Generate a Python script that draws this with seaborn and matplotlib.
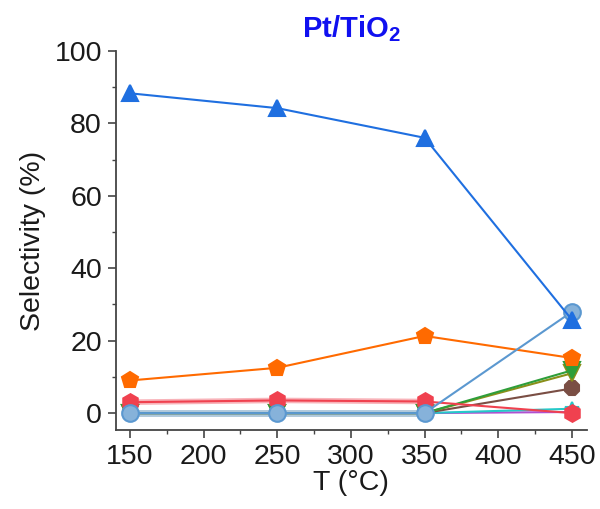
import matplotlib
matplotlib.use("Agg")
import matplotlib.pyplot as plt
import seaborn as sns
import numpy as np
from matplotlib.ticker import MultipleLocator

temps = [150, 250, 350, 450]
names = ["I", "H", "G", "F", "E", "C", "B", "D", "A"]
vals_A = [88.3, 84.2, 76.0, 25.7]
vals_B = [9.0, 12.5, 21.3, 15.2]
vals_C = [3.0, 3.5, 3.2, 0.0]
vals_D = [0.0, 0.0, 0.0, 28.0]
vals_E = [0.0, 0.0, 0.0, 11.8]
vals_F = [0.0, 0.0, 0.0, 11.0]
vals_G = [0.0, 0.0, 0.0, 6.8]
vals_H = [0.0, 0.0, 0.0, 1.2]
vals_I = [0.0, 0.0, 0.0, 0.3]
values = {"A": vals_A, "B": vals_B, "C": vals_C, "D": vals_D, "E": vals_E,
          "F": vals_F, "G": vals_G, "H": vals_H, "I": vals_I}
colors = {"A": "#1f6fe0", "B": "#ff6a00", "C": "#f0414f", "D": "#5b98d0",
          "E": "#2e9e3a", "F": "#8a8f1a", "G": "#7a4e44", "H": "#25c9c9",
          "I": "#b050d0"}
faces = dict(colors)
faces["D"] = "#86b2da"
markers = {"A": "^", "B": "p", "C": "h", "D": "o", "E": "v", "F": "v",
           "G": "8", "H": "*", "I": "d"}
msizes = {"A": 11, "B": 12, "C": 12, "D": 12, "E": 11, "F": 11, "G": 11,
          "H": 10, "I": 7}

sns.set_style("ticks")
plt.rcParams['font.family'] = ['Liberation Sans', 'DejaVu Sans']
plt.rcParams['mathtext.fontset'] = 'custom'
plt.rcParams['mathtext.rm'] = 'Liberation Sans'
plt.rcParams['mathtext.bf'] = 'Liberation Sans:bold'

fig = plt.figure(figsize=(6, 5.09), dpi=100)
ax = fig.add_axes([0.193, 0.155, 0.785, 0.745])

# pale thick baseline bands drawn first
sns.lineplot(x=temps[:3], y=vals_D[:3], ax=ax, color="#a9c4d8", linewidth=5, alpha=0.9)
sns.lineplot(x=temps[:3], y=vals_C[:3], ax=ax, color="#f7a0a8", linewidth=4, alpha=0.8)

for n in names:
    sns.lineplot(x=temps, y=values[n], ax=ax, color=colors[n], marker=markers[n],
                 markersize=msizes[n], markerfacecolor=faces[n],
                 markeredgecolor=colors[n], markeredgewidth=1.5, linewidth=1.5)

ax.set_xlim(140.5, 460)
ax.set_ylim(-4.7, 100)
ax.xaxis.set_major_locator(MultipleLocator(50))
ax.xaxis.set_minor_locator(MultipleLocator(25))
ax.yaxis.set_major_locator(MultipleLocator(20))
ax.yaxis.set_minor_locator(MultipleLocator(10))
for s in ["top", "right"]:
    ax.spines[s].set_visible(False)
for s in ["left", "bottom"]:
    ax.spines[s].set_color("#444444")
    ax.spines[s].set_linewidth(1.3)
ax.tick_params(which="major", direction="out", length=6, width=1.2, color="#444444",
               labelsize=20.5, pad=4, labelcolor="#1a1a1a")
ax.tick_params(which="minor", direction="out", length=3, width=1.0, color="#444444")
ax.set_xlabel("T (°C)", fontsize=20.5, color="#1a1a1a", labelpad=0)
ax.set_ylabel("Selectivity (%)", fontsize=20.5, color="#1a1a1a", labelpad=6)
ax.set_title(r"Pt/TiO$_\mathbf{2}$", fontsize=21, fontweight="bold", color="#1010f0", pad=10)

fig.savefig("out.png", dpi=100)
